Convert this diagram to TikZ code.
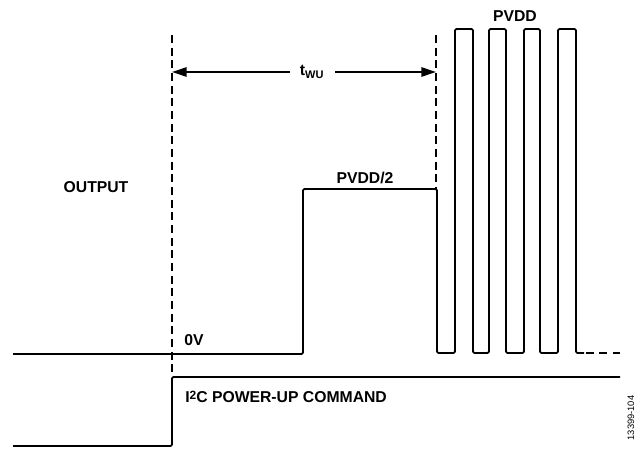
\documentclass[tikz,border=0pt]{standalone}
\usepackage{fontspec}
\setmainfont{Liberation Sans}
\usepackage{tikz}
\usetikzlibrary{arrows.meta,positioning,calc}

\begin{document}
\begin{tikzpicture}[
    x=0.75pt, y=-0.75pt,
    wave/.style={line width=1.4pt, line join=round, rounded corners=1pt},
    marker/.style={line width=0.8pt, dash pattern=on 6pt off 3.5pt},
    label/.style={font=\fontsize{11.8}{13}\selectfont\bfseries, inner sep=0pt},
    arrow/.style={-{Stealth[length=11pt, width=7pt, inset=0pt]}, line width=1.3pt}
]
\useasboundingbox (0,0) rectangle (639,450);

% timing markers
\coordinate (mstart) at (172,35);
\coordinate (mend) at (436,35);
\draw[marker] (mstart) -- (172,377);
\draw[marker] (mend) -- (436,189);

% wake-up time
\node[label] (twu) at (312,72) {t\textsubscript{WU}};
\draw[arrow] (twu.west -| 290,72) -- (mstart |- twu);
\draw[arrow] (twu.east -| 335,72) -- (mend |- twu);

% output waveform
\draw[wave] (13,354) -- (303,354) -- (303,189) -- (437,189) -- (437,353)
  -- (455,353) -- (455,29) -- (473,29) -- (473,353)
  -- (489,353) -- (489,29) -- (506,29) -- (506,353)
  -- (524,353) -- (524,29) -- (540,29) -- (540,353)
  -- (558,353) -- (558,29) -- (576,29) -- (576,353) -- (584,353);
\draw[wave, dash pattern=on 6pt off 4pt] (586,353) -- (620,353);

% I2C command
\draw[wave] (13,446) -- (172,446) -- (172,377) -- (620,377);

% labels
\node[label] (out) at (96,187) {OUTPUT};
\node[label] (half) at (365,178) {PVDD/2};
\node[label] (full) at (515,16) {PVDD};
\node[label] (zero) at (194,340) {0V};
\node[label, anchor=west] (cmd) at (185,397) {I\raisebox{0.35ex}{\fontsize{9}{10}\selectfont 2}C POWER-UP COMMAND};
\node[font=\fontsize{7}{8}\selectfont, rotate=90, inner sep=0pt] (fig) at (631,418) {13399-104};
\end{tikzpicture}
\end{document}
